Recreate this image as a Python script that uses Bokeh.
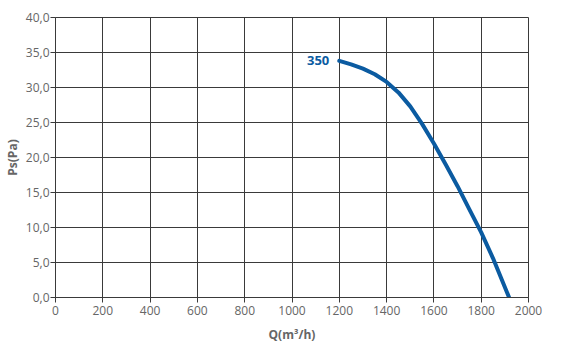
from bokeh.plotting import figure
from bokeh.embed import file_html
from bokeh.resources import INLINE
from bokeh.models import FixedTicker, Range1d, Label

# Data
q = [1200, 1250, 1300, 1350, 1400, 1450, 1500, 1550, 1600, 1650, 1700, 1750, 1800, 1850, 1918]
ps = [33.8, 33.3, 32.7, 31.9, 30.8, 29.3, 27.3, 24.8, 22.0, 19.0, 15.9, 12.6, 9.3, 5.6, 0.0]
curve_label = "350"
x_ticks = [0, 200, 400, 600, 800, 1000, 1200, 1400, 1600, 1800, 2000]
y_ticks = [0, 5, 10, 15, 20, 25, 30, 35, 40]
y_tick_labels = ["0,0", "5,0", "10,0", "15,0", "20,0", "25,0", "30,0", "35,0", "40,0"]

FONT = "Open Sans"
BLUE = "#0b5ba1"
GRID = "#3a3a3a"
TXT = "#666666"

p = figure(width=581, height=351, output_backend="svg", toolbar_location=None,
           x_range=Range1d(0, 2000), y_range=Range1d(0, 40),
           min_border_left=55, min_border_right=53, min_border_top=17, min_border_bottom=54)
p.background_fill_color = "white"
p.border_fill_color = "white"
p.outline_line_color = GRID
p.outline_line_width = 1

p.xaxis.ticker = FixedTicker(ticks=x_ticks)
p.yaxis.ticker = FixedTicker(ticks=y_ticks)
p.yaxis.major_label_overrides = {t: l for t, l in zip(y_ticks, y_tick_labels)}

for ax in (p.xaxis[0], p.yaxis[0]):
    ax.axis_line_color = GRID
    ax.major_tick_line_color = GRID
    ax.major_tick_in = 0
    ax.major_tick_out = 5
    ax.minor_tick_line_color = None
    ax.major_label_text_font = FONT
    ax.major_label_text_font_size = "12px"
    ax.major_label_text_color = TXT
    ax.axis_label_text_font = FONT
    ax.axis_label_text_font_size = "12px"
    ax.axis_label_text_font_style = "bold"
    ax.axis_label_text_color = TXT

p.xaxis.major_label_standoff = 3
p.yaxis.major_label_standoff = 1
p.xaxis.axis_label = "Q(m³/h)"
p.yaxis.axis_label = "Ps(Pa)"
p.xaxis.axis_label_standoff = 8
p.yaxis.axis_label_standoff = 2

p.xgrid.ticker = FixedTicker(ticks=x_ticks)
p.ygrid.ticker = FixedTicker(ticks=y_ticks)
p.grid.grid_line_color = GRID
p.grid.grid_line_width = 1

p.line(q, ps, line_color=BLUE, line_width=4, line_cap="round", line_join="round")

p.add_layout(Label(x=q[0], y=ps[0], x_offset=-10, text=curve_label,
                   text_font=FONT, text_font_size="13px", text_font_style="bold",
                   text_color=BLUE, text_align="right", text_baseline="middle"))

open("out.html", "w").write(file_html(p, INLINE))
